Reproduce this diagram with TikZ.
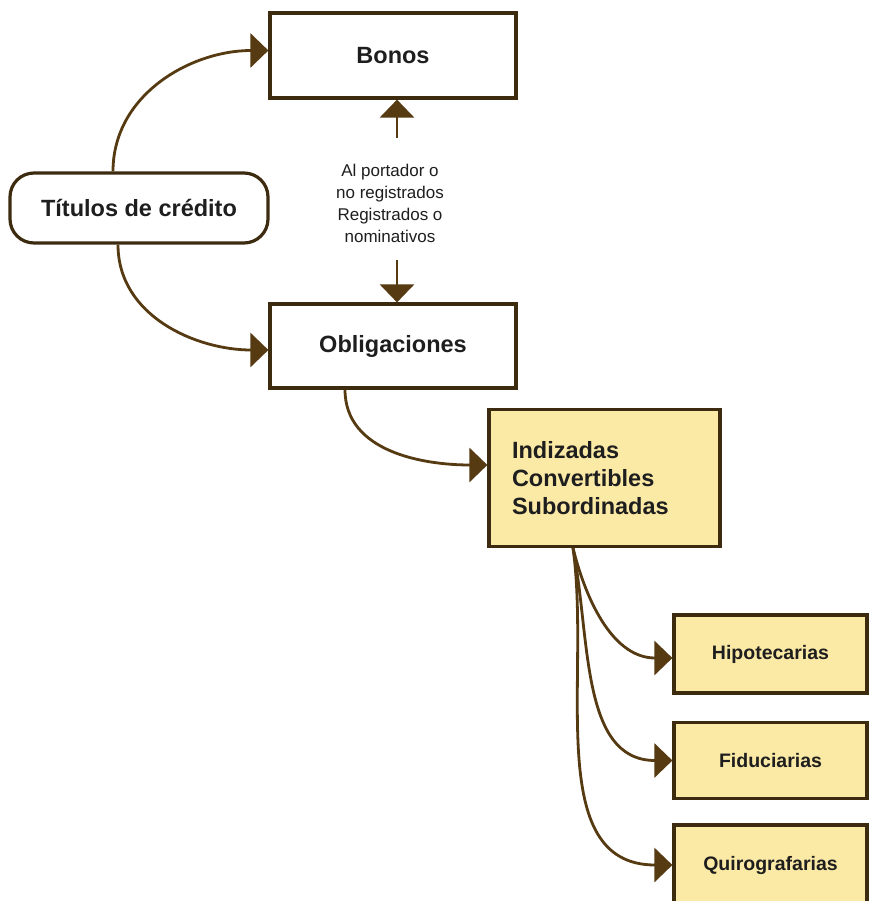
\documentclass[tikz,border=0pt]{standalone}
\usepackage{fontspec}
\setmainfont{Liberation Sans}
\usetikzlibrary{arrows.meta}
\definecolor{brd}{HTML}{3D2B0F}
\definecolor{arrc}{HTML}{553A12}
\definecolor{yel}{HTML}{FBE9A6}
\definecolor{txt}{HTML}{1E1E1E}
\begin{document}
\begin{tikzpicture}[x=1pt,y=-1pt,
  box/.style={draw=brd, line width=3.2pt, fill=white, minimum width=246pt, minimum height=85pt, inner sep=0pt, font=\fontsize{23.5}{28}\selectfont\bfseries, text=txt},
  tbox/.style={box, rounded corners=24pt, minimum width=258pt, minimum height=70pt},
  ybox/.style={box, fill=yel, minimum width=231pt, minimum height=137pt, align=left, text width=185pt},
  sbox/.style={box, fill=yel, minimum width=193pt, font=\fontsize{19.5}{24}\selectfont\bfseries},
  lbl/.style={font=\fontsize{17}{22}\selectfont, text=txt, align=center, inner sep=0pt},
  con/.style={draw=arrc, line width=2.8pt, -{Triangle[length=18pt,width=34pt]}}]
\useasboundingbox (0,0) rectangle (872,901);
\fill[white] (0,0) rectangle (872,901);
\node[box] (bonos) at (393,55.5) {Bonos};
\node[tbox] (tit) at (139,208) {Títulos de crédito};
\node[box, minimum height=84pt] (obl) at (393,346) {Obligaciones};
\node[ybox] (ind) at (604.5,478) {Indizadas\\Convertibles\\Subordinadas};
\node[sbox, minimum height=78pt] (hip) at (770.5,654) {Hipotecarias};
\node[sbox, minimum height=76pt] (fid) at (770.5,760.5) {Fiduciarias};
\node[sbox, minimum height=80pt] (qui) at (770.5,865) {Quirografarias};
\node[lbl] (txt1) at (390,203) {Al portador o\\no registrados\\Registrados o\\nominativos};
\coordinate (a1) at (397,138);
\coordinate (a2) at (397,260);
\draw[con] (a1) -- (a1 |- bonos.south);
\draw[con] (a2) -- (a2 |- obl.north);
\draw[con] ([xshift=-26pt]tit.north) to[out=90,in=180] ([yshift=5pt]bonos.west);
\draw[con] ([xshift=-21pt]tit.south) to[out=-90,in=180] ([yshift=-4pt]obl.west);
\draw[con] ([xshift=-48pt]obl.south) to[out=-90,in=180] ([yshift=13pt]ind.west);
\draw[con] ([xshift=-31.5pt]ind.south) to[out=-76,in=180] ([yshift=-4pt]hip.west);
\draw[con] ([xshift=-31.5pt]ind.south) to[out=-79,in=180] (fid.west);
\draw[con] ([xshift=-31.5pt]ind.south) to[out=-82,in=180] (qui.west);
\end{tikzpicture}
\end{document}
